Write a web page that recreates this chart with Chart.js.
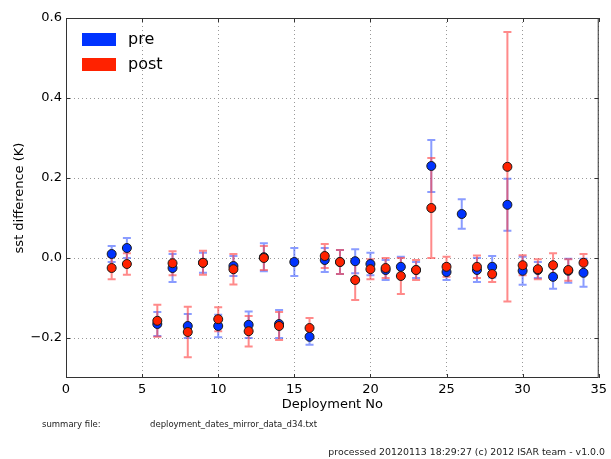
<!DOCTYPE html>
<html>
<head>
<meta charset="utf-8">
<script src="https://cdn.jsdelivr.net/npm/chart.js@4"></script>
<style>
  html, body { margin: 0; padding: 0; background: #fff; }
</style>
</head>
<body>
<canvas id="chart" width="611" height="459"></canvas>
<script>
// deployment numbers and sst differences
const deployments = [3, 4, 6, 7, 8, 9, 10, 11, 12, 13, 14, 15, 16, 17, 18, 19, 20, 21, 22, 23, 24, 25, 26, 27, 28, 29, 30, 31, 32, 33, 34];
const preValues = [0.01, 0.025, -0.165, -0.025, -0.17, -0.012, -0.17, -0.02, -0.167, 0.002, -0.165, -0.01, -0.197, -0.005, -0.01, -0.008, -0.015, -0.03, -0.022, -0.03, 0.23, -0.035, 0.11, -0.03, -0.022, 0.133, -0.032, -0.03, -0.047, -0.032, -0.037];
const preErrors = [0.02, 0.025, 0.03, 0.035, 0.03, 0.025, 0.028, 0.025, 0.033, 0.035, 0.035, 0.035, 0.02, 0.03, 0.03, 0.03, 0.028, 0.025, 0.025, 0.02, 0.065, 0.02, 0.037, 0.03, 0.027, 0.065, 0.035, 0.02, 0.03, 0.03, 0.035];
const postValues = [-0.025, -0.015, -0.157, -0.013, -0.185, -0.012, -0.153, -0.028, -0.183, 0.0, -0.17, null, -0.175, 0.005, -0.01, -0.055, -0.028, -0.025, -0.045, -0.03, 0.125, -0.022, null, -0.022, -0.04, 0.228, -0.018, -0.028, -0.018, -0.03, -0.012];
const postErrors = [0.028, 0.027, 0.04, 0.03, 0.063, 0.03, 0.03, 0.038, 0.038, 0.03, 0.035, null, 0.025, 0.03, 0.03, 0.05, 0.025, 0.025, 0.045, 0.025, 0.125, 0.025, null, 0.028, 0.02, 0.337, 0.025, 0.025, 0.03, 0.027, 0.022];

const xTicks = [0, 5, 10, 15, 20, 25, 30, 35];
const yTicks = [-0.2, 0.0, 0.2, 0.4, 0.6];

const xTitle = "Deployment No";
const yTitle = "sst difference (K)";
const summaryLabel = "summary file:";
const summaryFile = "deployment_dates_mirror_data_d34.txt";
const processedNote = "processed 20120113 18:29:27 (c) 2012 ISAR team - v1.0.0";

const FONT = "'DejaVu Sans', sans-serif";

function points(values) {
  const out = [];
  deployments.forEach((d, i) => {
    if (values[i] !== null) out.push({ x: d, y: values[i] });
  });
  return out;
}

// error bars, drawn under the markers (pre first, then post)
const errorBars = {
  id: "errorBars",
  beforeDatasetsDraw(c) {
    const ctx = c.ctx, xs = c.scales.x, ys = c.scales.y;
    c.data.datasets.forEach(ds => {
      ctx.save();
      ctx.strokeStyle = ds.errColor;
      ctx.lineWidth = 2;
      deployments.forEach((d, i) => {
        const v = ds.values[i], e = ds.errors[i];
        if (v === null || e === null) return;
        const px = xs.getPixelForValue(d);
        const top = ys.getPixelForValue(v + e);
        const bot = ys.getPixelForValue(v - e);
        ctx.beginPath();
        ctx.moveTo(px, top); ctx.lineTo(px, bot);
        ctx.moveTo(px - 4, top); ctx.lineTo(px + 4, top);
        ctx.moveTo(px - 4, bot); ctx.lineTo(px + 4, bot);
        ctx.stroke();
      });
      ctx.restore();
    });
  }
};

// frame, inward ticks, legend and footer texts
const decorations = {
  id: "decorations",
  afterDraw(c) {
    const ctx = c.ctx, a = c.chartArea, xs = c.scales.x, ys = c.scales.y;
    ctx.save();
    ctx.strokeStyle = "#333";
    ctx.lineWidth = 1;
    ctx.strokeRect(a.left + 0.5, a.top + 0.5, a.right - a.left - 1, a.bottom - a.top - 1);
    ctx.beginPath();
    xTicks.forEach(v => {
      const px = Math.round(xs.getPixelForValue(v)) + 0.5;
      ctx.moveTo(px, a.bottom); ctx.lineTo(px, a.bottom - 4);
      ctx.moveTo(px, a.top); ctx.lineTo(px, a.top + 4);
    });
    yTicks.forEach(v => {
      const py = Math.round(ys.getPixelForValue(v)) + 0.5;
      ctx.moveTo(a.left, py); ctx.lineTo(a.left + 4, py);
      ctx.moveTo(a.right, py); ctx.lineTo(a.right - 4, py);
    });
    ctx.stroke();

    // legend inside the axes
    ctx.textBaseline = "middle";
    ctx.font = "16px " + FONT;
    c.data.datasets.forEach((ds, i) => {
      const y = 33 + i * 25;
      ctx.fillStyle = ds.backgroundColor;
      ctx.fillRect(82, y, 34, 13);
      ctx.fillStyle = "#000";
      ctx.fillText(ds.label, 128, y + 7);
    });

    // footer
    ctx.fillStyle = "#222";
    ctx.font = "8.5px " + FONT;
    ctx.fillText(summaryLabel, 42, 425);
    ctx.fillText(summaryFile, 150, 425);
    ctx.font = "9.4px " + FONT;
    ctx.textAlign = "right";
    ctx.fillText(processedNote, 605, 453);
    ctx.restore();
  }
};

const fmt = v => (v < 0 ? "\u2212" : "") + Math.abs(v).toFixed(1);

const chart = new Chart(document.getElementById("chart"), {
  type: "scatter",
  data: {
    datasets: [
      {
        label: "pre",
        data: points(preValues),
        values: preValues,
        errors: preErrors,
        order: 1,
        backgroundColor: "#0033ff",
        borderColor: "#1a1a1a",
        errColor: "rgba(60, 90, 255, 0.6)",
        borderWidth: 1,
        pointRadius: 4.5
      },
      {
        label: "post",
        data: points(postValues),
        values: postValues,
        errors: postErrors,
        order: 0,
        backgroundColor: "#ff2200",
        borderColor: "#1a1a1a",
        errColor: "rgba(255, 60, 60, 0.6)",
        borderWidth: 1,
        pointRadius: 4.5
      }
    ]
  },
  options: {
    responsive: false,
    devicePixelRatio: 1,
    animation: false,
    layout: { padding: { left: 12, right: 7, top: 18, bottom: 45 } },
    plugins: { legend: { display: false }, tooltip: { enabled: false } },
    scales: {
      x: {
        type: "linear",
        min: 0,
        max: 35,
        afterBuildTicks: s => { s.ticks = xTicks.map(v => ({ value: v })); },
        afterFit: s => { s.height = 36; },
        grid: { color: "#999", lineWidth: 1, drawTicks: false, borderDash: [1, 3] },
        border: { display: false, dash: [1, 3] },
        ticks: { padding: 4, color: "#000", maxRotation: 0, font: { family: FONT, size: 13 }, callback: v => String(v) },
        title: { display: true, text: xTitle, color: "#000", font: { family: FONT, size: 13 }, padding: { top: 0, bottom: 2 } }
      },
      y: {
        min: -0.3,
        max: 0.6,
        afterBuildTicks: s => { s.ticks = yTicks.map(v => ({ value: v })); },
        afterFit: s => { s.width = 54; },
        grid: { color: "#999", lineWidth: 1, drawTicks: false, borderDash: [1, 3] },
        border: { display: false, dash: [1, 3] },
        ticks: { padding: 4, color: "#000", font: { family: FONT, size: 13 }, callback: fmt },
        title: { display: true, text: yTitle, color: "#000", font: { family: FONT, size: 13 }, padding: { top: 0, bottom: 0 } }
      }
    }
  },
  plugins: [errorBars, decorations]
});
</script>
</body>
</html>
